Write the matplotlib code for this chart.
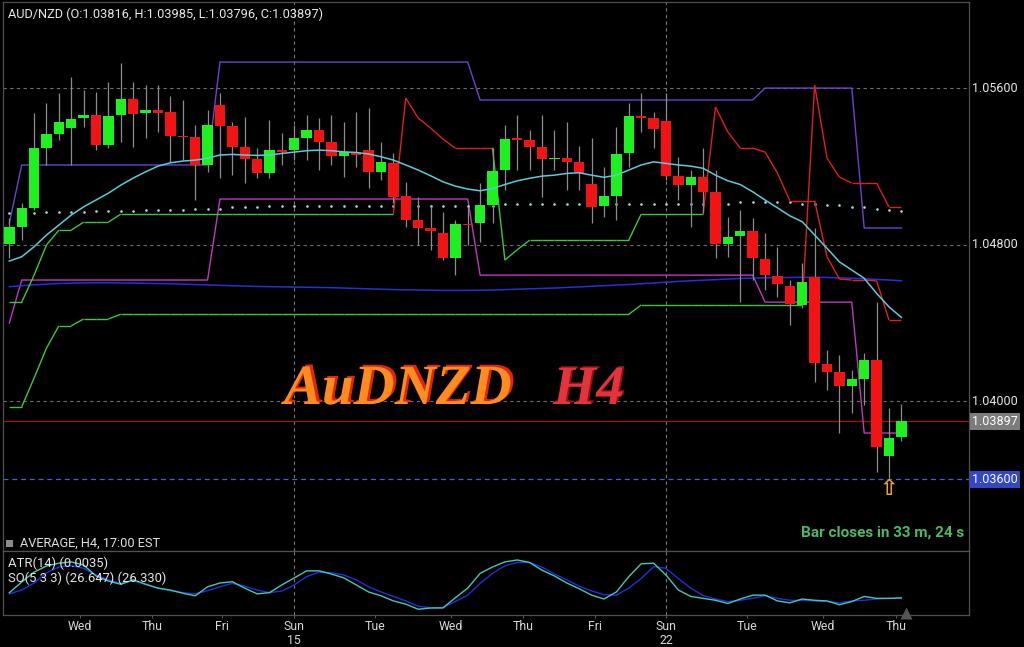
import matplotlib
matplotlib.use("Agg")
import matplotlib.pyplot as plt
import matplotlib.patheffects as pe
from matplotlib.patches import Rectangle
from matplotlib.collections import LineCollection
from matplotlib.transforms import blended_transform_factory

plt.rcParams['font.family'] = ['Roboto', 'DejaVu Sans']

# ---------------- data ----------------
opens = [1.04803, 1.04890, 1.04987, 1.05293, 1.05365, 1.05396, 1.05447, 1.05462, 1.05309, 1.05462,
         1.05544, 1.05472, 1.05488, 1.05477, 1.05355, 1.05350, 1.05207, 1.05513, 1.05406, 1.05299,
         1.05237, 1.05166, 1.05283, 1.05283, 1.05345, 1.05385, 1.05324, 1.05253, 1.05273, 1.05283,
         1.05171, 1.05217, 1.05048, 1.04925, 1.04885, 1.04859, 1.04731, 1.04905, 1.04910, 1.05002,
         1.05181, 1.05345, 1.05334, 1.05299, 1.05237, 1.05242, 1.05222, 1.05109, 1.04997, 1.05048,
         1.05268, 1.05457, 1.05447, 1.05431, 1.05150, 1.05104, 1.05145, 1.05069, 1.04803, 1.04844,
         1.04869, 1.04726, 1.04639, 1.04588, 1.04491, 1.04634, 1.04190, 1.04149, 1.04077, 1.04113,
         1.04210, 1.03720, 1.03816]
highs = [1.04936, 1.05012, 1.05472, 1.05523, 1.05574, 1.05656, 1.05590, 1.05580, 1.05631, 1.05728,
         1.05631, 1.05615, 1.05615, 1.05559, 1.05539, 1.05411, 1.05488, 1.05574, 1.05426, 1.05452,
         1.05293, 1.05436, 1.05370, 1.05411, 1.05462, 1.05447, 1.05462, 1.05426, 1.05477, 1.05498,
         1.05324, 1.05268, 1.05120, 1.05043, 1.04992, 1.04966, 1.04925, 1.04992, 1.05115, 1.05293,
         1.05411, 1.05462, 1.05385, 1.05462, 1.05385, 1.05426, 1.05304, 1.05345, 1.05196, 1.05401,
         1.05523, 1.05574, 1.05477, 1.05574, 1.05247, 1.05181, 1.05293, 1.05181, 1.04941, 1.04977,
         1.04936, 1.04859, 1.04788, 1.04619, 1.04706, 1.04885, 1.04261, 1.04236, 1.04159, 1.04246,
         1.04506, 1.03965, 1.03985]
lows = [1.04731, 1.04823, 1.04977, 1.05207, 1.05334, 1.05207, 1.05401, 1.05283, 1.05293, 1.05324,
        1.05299, 1.05345, 1.05375, 1.05222, 1.05232, 1.05028, 1.05171, 1.05140, 1.05155, 1.05115,
        1.05140, 1.05140, 1.05207, 1.05232, 1.05232, 1.05181, 1.05207, 1.05145, 1.05196, 1.05089,
        1.05130, 1.05012, 1.04890, 1.04798, 1.04772, 1.04721, 1.04644, 1.04798, 1.04813, 1.04910,
        1.05079, 1.05181, 1.05181, 1.05043, 1.05181, 1.05079, 1.05079, 1.04910, 1.04941, 1.04925,
        1.05196, 1.05375, 1.05293, 1.05130, 1.05028, 1.04890, 1.04961, 1.04731, 1.04736, 1.04506,
        1.04619, 1.04568, 1.04532, 1.04389, 1.04476, 1.04098, 1.04057, 1.03837, 1.03939, 1.03980,
        1.03638, 1.03607, 1.03796]
closes = [1.04890, 1.04987, 1.05293, 1.05365, 1.05426, 1.05442, 1.05462, 1.05309, 1.05457, 1.05544,
          1.05467, 1.05488, 1.05472, 1.05355, 1.05350, 1.05207, 1.05411, 1.05406, 1.05299, 1.05237,
          1.05166, 1.05283, 1.05273, 1.05345, 1.05385, 1.05324, 1.05253, 1.05273, 1.05258, 1.05171,
          1.05222, 1.05043, 1.04925, 1.04885, 1.04869, 1.04731, 1.04905, 1.04900, 1.05002, 1.05176,
          1.05339, 1.05334, 1.05299, 1.05237, 1.05242, 1.05222, 1.05166, 1.04992, 1.05048, 1.05263,
          1.05457, 1.05447, 1.05390, 1.05150, 1.05104, 1.05145, 1.05069, 1.04803, 1.04839, 1.04869,
          1.04731, 1.04644, 1.04598, 1.04496, 1.04609, 1.04195, 1.04149, 1.04077, 1.04113, 1.04210,
          1.03766, 1.03812, 1.03897]

channel_upper = [1.04910,
                 1.05207, 1.05207, 1.05207, 1.05207, 1.05207, 1.05207, 1.05207, 1.05207,
                 1.05207, 1.05207, 1.05207, 1.05207, 1.05207, 1.05207, 1.05207, 1.05207,
                 1.05733, 1.05733, 1.05733, 1.05733, 1.05733, 1.05733, 1.05733, 1.05733, 1.05733, 1.05733,
                 1.05733, 1.05733, 1.05733, 1.05733, 1.05733, 1.05733, 1.05733, 1.05733, 1.05733, 1.05733,
                 1.05733,
                 1.05539, 1.05539, 1.05539, 1.05539, 1.05539, 1.05539, 1.05539, 1.05539, 1.05539, 1.05539,
                 1.05539, 1.05539, 1.05539, 1.05539, 1.05539, 1.05539, 1.05539, 1.05539, 1.05539, 1.05539,
                 1.05539, 1.05539, 1.05539,
                 1.05600, 1.05600, 1.05600, 1.05600, 1.05600, 1.05600, 1.05600, 1.05600,
                 1.04885, 1.04885, 1.04885, 1.04885]
channel_lower = [1.04399,
                 1.04619, 1.04619, 1.04619, 1.04619, 1.04619, 1.04619, 1.04619, 1.04619,
                 1.04619, 1.04619, 1.04619, 1.04619, 1.04619, 1.04619, 1.04619, 1.04619,
                 1.05033, 1.05033, 1.05033, 1.05033, 1.05033, 1.05033, 1.05033, 1.05033, 1.05033, 1.05033,
                 1.05033, 1.05033, 1.05033, 1.05033, 1.05033, 1.05033, 1.05033, 1.05033, 1.05033, 1.05033,
                 1.05033,
                 1.04644, 1.04644, 1.04644, 1.04644, 1.04644, 1.04644, 1.04644, 1.04644, 1.04644, 1.04644,
                 1.04644, 1.04644, 1.04644, 1.04644, 1.04644, 1.04644, 1.04644, 1.04644, 1.04644, 1.04644,
                 1.04644, 1.04644, 1.04644,
                 1.04506, 1.04506, 1.04506, 1.04506, 1.04506, 1.04506, 1.04506, 1.04506,
                 1.03837, 1.03837, 1.03837, 1.03837]

ma_fast = [1.04716, 1.04738, 1.04789, 1.04849, 1.04900, 1.04951, 1.04993, 1.05028, 1.05063, 1.05104,
           1.05140, 1.05172, 1.05201, 1.05218, 1.05227, 1.05232, 1.05241, 1.05258, 1.05261, 1.05258,
           1.05256, 1.05258, 1.05266, 1.05273, 1.05280, 1.05283, 1.05280, 1.05274, 1.05271, 1.05263,
           1.05249, 1.05232, 1.05207, 1.05181, 1.05152, 1.05121, 1.05099, 1.05084, 1.05075, 1.05087,
           1.05107, 1.05126, 1.05139, 1.05150, 1.05155, 1.05164, 1.05167, 1.05155, 1.05144, 1.05155,
           1.05181, 1.05207, 1.05223, 1.05215, 1.05207, 1.05201, 1.05190, 1.05155, 1.05126, 1.05107,
           1.05070, 1.05028, 1.04988, 1.04947, 1.04917, 1.04849, 1.04781, 1.04712, 1.04670, 1.04628,
           1.04551, 1.04482, 1.04428]
ma_slow = [1.04585, 1.04590, 1.04595, 1.04598, 1.04601, 1.04603, 1.04604, 1.04605, 1.04605, 1.04604,
           1.04603, 1.04602, 1.04601, 1.04600, 1.04598, 1.04596, 1.04594, 1.04592, 1.04590, 1.04588,
           1.04586, 1.04585, 1.04584, 1.04583, 1.04582, 1.04581, 1.04580, 1.04578, 1.04576, 1.04574,
           1.04572, 1.04570, 1.04569, 1.04568, 1.04567, 1.04566, 1.04566, 1.04566, 1.04567, 1.04568,
           1.04570, 1.04572, 1.04574, 1.04576, 1.04578, 1.04581, 1.04584, 1.04587, 1.04590, 1.04593,
           1.04596, 1.04600, 1.04604, 1.04608, 1.04612, 1.04615, 1.04618, 1.04621, 1.04624, 1.04627,
           1.04629, 1.04630, 1.04631, 1.04632, 1.04633, 1.04633, 1.04632, 1.04630, 1.04628, 1.04625,
           1.04622, 1.04619, 1.04615]
ma_dotted = [1.04961, 1.04961, 1.04961, 1.04966, 1.04966, 1.04966, 1.04966, 1.04971, 1.04971, 1.04971,
             1.04971, 1.04977, 1.04977, 1.04977, 1.04977, 1.04982, 1.04982, 1.04982, 1.04990, 1.04990,
             1.04990, 1.04997, 1.04997, 1.04997, 1.04997, 1.04997, 1.04997, 1.04997, 1.04997, 1.04997,
             1.04997, 1.04997, 1.04997, 1.04997, 1.04997, 1.04997, 1.04997, 1.04997, 1.04997, 1.04997,
             1.05007, 1.05007, 1.05007, 1.05007, 1.05007, 1.05007, 1.05007, 1.05007, 1.05007, 1.05007,
             1.05007, 1.05007, 1.05007, 1.05007, 1.05007, 1.05007, 1.05007, 1.05007, 1.05007, 1.05017,
             1.05017, 1.05017, 1.05017, 1.05017, 1.05010, 1.05010, 1.05000, 1.05000, 1.04990, 1.04990,
             1.04982, 1.04977, 1.04971]

stop_fast = [1.04506, 1.04506, 1.04644, 1.04798, 1.04874, 1.04874, 1.04915, 1.04915, 1.04915, 1.04956,
             1.04956, 1.04956, 1.04956, 1.04956, 1.04956, 1.04956, 1.04956, 1.04956, 1.04956, 1.04956,
             1.04956, 1.04956, 1.04956, 1.04956, 1.04956, 1.04956, 1.04956, 1.04956, 1.04956, 1.04956,
             1.04956, 1.04956, 1.05549, 1.05447, 1.05396, 1.05339, 1.05293, 1.05293, 1.05293, 1.05293,
             1.04721, 1.04774, 1.04823, 1.04823, 1.04823, 1.04823, 1.04823, 1.04823, 1.04823, 1.04823,
             1.04823, 1.04956, 1.04956, 1.04956, 1.04956, 1.04956, 1.04956, 1.05503, 1.05375, 1.05293,
             1.05293, 1.05273, 1.05166, 1.05024, 1.05024, 1.05024, 1.04738, 1.04624, 1.04619, 1.04619,
             1.04615, 1.04415, 1.04415]
stop_fast_side = ['L'] * 32 + ['S'] * 8 + ['L'] * 17 + ['S'] * 16
stop_slow = [1.03971, 1.03971, 1.04118, 1.04271, 1.04385, 1.04385, 1.04420, 1.04420, 1.04420, 1.04444,
             1.04444, 1.04444, 1.04444, 1.04444, 1.04444, 1.04444, 1.04444, 1.04444, 1.04444, 1.04444,
             1.04444, 1.04444, 1.04444, 1.04444, 1.04444, 1.04444, 1.04444, 1.04444, 1.04444, 1.04444,
             1.04444, 1.04444, 1.04444, 1.04444, 1.04444, 1.04444, 1.04444, 1.04444, 1.04444, 1.04444,
             1.04444, 1.04444, 1.04444, 1.04444, 1.04444, 1.04444, 1.04444, 1.04444, 1.04444, 1.04444,
             1.04444, 1.04491, 1.04491, 1.04491, 1.04491, 1.04491, 1.04491, 1.04491, 1.04491, 1.04491,
             1.04491, 1.04491, 1.04491, 1.04491, 1.04491, 1.05615, 1.05242, 1.05145, 1.05115, 1.05115,
             1.05115, 1.04992, 1.04992]
stop_slow_side = ['L'] * 65 + ['S'] * 8

so_k = [34.8, 51.6, 67, 76.6, 81, 83, 78, 61, 53, 48,
        55, 48, 42, 39, 34, 30, 44, 50, 52, 42,
        33, 35, 47, 58, 69, 69, 64, 58, 47, 36,
        30, 22, 17, 9, 11, 11, 27, 42, 65, 75,
        83, 86, 82, 70, 61, 50, 41, 31, 25, 36,
        60, 80, 81, 62.5, 39, 29, 26, 23, 18, 25,
        31, 31, 22, 19, 25, 23, 22, 16, 21, 29,
        26, 26, 26.647]
so_d = [33, 39, 50, 66, 75, 77, 73, 62.5, 55, 49.5,
        53.6, 48, 42, 38, 35, 33, 38, 44, 49.5, 45,
        39, 35, 37.5, 47, 60, 67, 66, 62.5, 55, 44,
        36, 29, 22, 14, 11, 12, 21, 31, 49.5, 65,
        77, 82, 82, 75, 64, 55, 45, 37.5, 32, 31,
        42, 57, 75.5, 73, 57, 42, 30.5, 25, 21, 23,
        26, 30, 26, 23, 23, 22, 21, 19, 22, 23,
        25, 26, 26.33]

day_labels = ['Wed', 'Thu', 'Fri', 'Sun\n15', 'Tue', 'Wed', 'Thu', 'Fri', 'Sun\n22', 'Tue', 'Wed', 'Thu']
day_pos = [5.71, 11.52, 17.17, 23.0, 29.52, 35.65, 41.46, 47.27, 53.0, 59.54, 65.67, 71.56]
week_starts = [23.0, 53.0]
grid_prices = [1.05600, 1.04800, 1.04000]
last_price = 1.03897
alert_price = 1.03600
header = "AUD/NZD (O:1.03816, H:1.03985, L:1.03796, C:1.03897)"

# ---------------- figure ----------------
W, H = 1024, 647
fig = plt.figure(figsize=(W / 100, H / 100), dpi=100, facecolor='black')

def fx(px):
    return px / W

def fy(py):
    return 1 - py / H

ax = fig.add_axes([fx(3), fy(551), fx(966), 549 / H])
ax2 = fig.add_axes([fx(3), fy(615), fx(966), 64 / H])
for a in (ax, ax2):
    a.set_facecolor('black')
    for s in a.spines.values():
        s.set_color('#505050')
        s.set_linewidth(0.9)

n = len(opens)
xs = list(range(n))
ax.set_xlim(-0.51, 77.46)
ax2.set_xlim(-0.51, 77.46)
ax.set_ylim(1.03234, 1.06040)
ax2.set_ylim(0, 100)
ax.set_xticks([])
ax.set_yticks([])
ax2.set_yticks([])

# grid
for p in grid_prices:
    ax.axhline(p, color='#6e6e6e', lw=0.8, dashes=(3, 3), zorder=1)
for wpos in week_starts:
    ax.axvline(wpos, color='#7a7a7a', lw=0.8, dashes=(3, 3), zorder=1)
    ax2.axvline(wpos, color='#7a7a7a', lw=0.8, dashes=(3, 3), zorder=1)

# price lines
ax.axhline(last_price, color='#a01212', lw=0.9, zorder=1)
ax.axhline(alert_price, color='#4a5ae0', lw=0.9, dashes=(4, 3), zorder=1)

# indicators
ax.plot(xs, channel_upper, color='#6a44d0', lw=1.0, zorder=2)
ax.plot(xs, channel_lower, color='#c038c0', lw=1.0, zorder=2)
ax.plot(xs, ma_slow, color='#2630d8', lw=1.1, zorder=2)
ax.plot(xs, ma_dotted, ls='none', marker='o', ms=1.9, color='#9fdcda', mec='none', zorder=2)

def stop_line(vals, side):
    segs, cols = [], []
    for i in range(1, len(vals)):
        segs.append([(i - 1, vals[i - 1]), (i, vals[i])])
        cols.append('#3cc83c' if side[i] == 'L' else '#e02020')
    return LineCollection(segs, colors=cols, linewidths=1.0, zorder=2)

ax.add_collection(stop_line(stop_fast, stop_fast_side))
ax.add_collection(stop_line(stop_slow, stop_slow_side))

# candles
bw = 0.84
for i in xs:
    o, h, l, c = opens[i], highs[i], lows[i], closes[i]
    ax.vlines(i, l, h, color='#8c8c8c', lw=0.9, zorder=3)
    col = '#1ff01f' if c >= o else '#f21414'
    bot = min(o, c)
    ht = max(abs(c - o), 0.00007)
    ax.add_patch(Rectangle((i - bw / 2, bot), bw, ht, facecolor=col, edgecolor='none', zorder=4))

ax.plot(xs, ma_fast, color='#5ccbd8', lw=1.1, zorder=5)

# right price labels
tr = blended_transform_factory(ax.transAxes, ax.transData)
for p in grid_prices:
    ax.text(1.0035, p, f"{p:.5f}", transform=tr, color='#e6e6e6', fontsize=9,
            va='center', ha='left', clip_on=False)
ax.text(1.0035, last_price, f"{last_price:.5f}", transform=tr, color='white', fontsize=9,
        va='center', ha='left', clip_on=False,
        bbox=dict(boxstyle='square,pad=0.18', fc='#7c7c7c', ec='none'))
ax.text(1.0035, alert_price, f"{alert_price:.5f}", transform=tr, color='white', fontsize=9,
        va='center', ha='left', clip_on=False,
        bbox=dict(boxstyle='square,pad=0.18', fc='#3346c8', ec='none'))

# alert arrow under the lowest candle
ax.text(n - 2, alert_price, '\u21e7', color='#f0a028', fontsize=16, fontweight='bold',
        ha='center', va='top', zorder=6, family='DejaVu Sans')

# header and captions
fig.text(fx(8), fy(14), header, color='#e8e8e8', fontsize=9.2, va='center', ha='left')
fig.patches.append(Rectangle((fx(6), fy(547)), fx(7), 7 / H, transform=fig.transFigure,
                             facecolor='#8a8a8a', edgecolor='none'))
fig.text(fx(20), fy(543), "AVERAGE, H4, 17:00 EST", color='#e0e0e0', fontsize=9.2,
         va='center', ha='left')
fig.text(fx(964), fy(533), "Bar closes in 33 m, 24 s", color='#4cb86a', fontsize=11,
         fontweight='bold', va='center', ha='right')

fire = [pe.withSimplePatchShadow(offset=(2.2, 1.4), shadow_rgbFace='#e02418', alpha=1.0)]
fig.text(fx(284), fy(404), "AuDNZD", color='#ff8c1c', fontsize=41, family='Liberation Serif',
         style='italic', fontweight='bold', va='baseline', ha='left', path_effects=fire)
fig.text(fx(553), fy(404), "H4", color='#e2343a', fontsize=40, family='Liberation Serif',
         style='italic', fontweight='bold', va='baseline', ha='left',
         path_effects=[pe.withSimplePatchShadow(offset=(1.5, 1.0), shadow_rgbFace='#9a1010', alpha=1.0)])

# oscillator panel
ax2.plot(xs, so_d, color='#2030d8', lw=1.0, zorder=2)
ax2.plot(xs, so_k, color='#46c8b4', lw=1.0, zorder=3)
ax2.plot([n - 0.6], [3], marker='^', ms=8, color='#555555', mec='none', zorder=4, clip_on=False)
ax2.text(0.005, 0.81, "ATR(14) (0.0035)", transform=ax2.transAxes, color='#e6e6e6',
         fontsize=9.4, va='center', ha='left')
ax2.text(0.005, 0.58, "SO(5 3 3) (26.647) (26.330)", transform=ax2.transAxes, color='#e6e6e6',
         fontsize=9.4, va='center', ha='left')
ax2.set_xticks(day_pos)
ax2.set_xticklabels(day_labels, color='#d8d8d8', fontsize=8.8, linespacing=1.15)
ax2.tick_params(axis='x', length=2, color='#555555', pad=1.5)

fig.savefig('out.png', dpi=100, facecolor='black')
